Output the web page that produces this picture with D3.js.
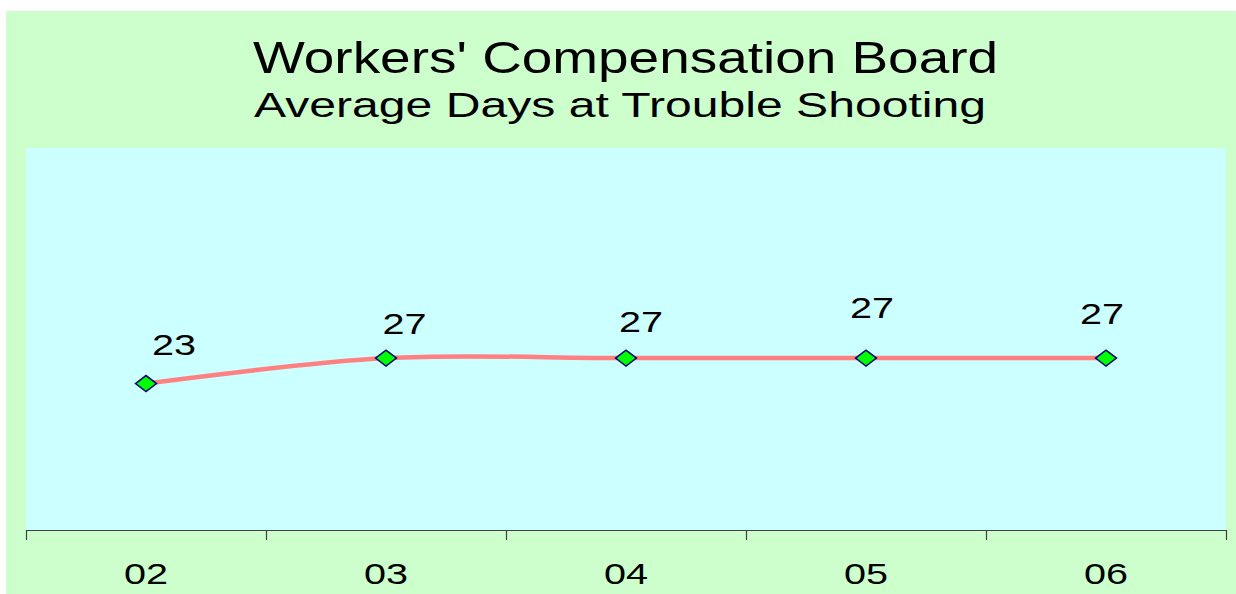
<!DOCTYPE html>
<html>
<head>
<meta charset="utf-8">
<script src="https://cdn.jsdelivr.net/npm/d3@7"></script>
<style>
  html, body { margin: 0; padding: 0; background: #ffffff; }
  svg { display: block; }
  text { font-family: "Liberation Sans", Arial, sans-serif; fill: #000; }
</style>
</head>
<body>
<svg id="chart" width="1236" height="594"></svg>
<script>
// ---- data ----
const categories = ["02", "03", "04", "05", "06"];
const avgDays = [23, 27, 27, 27, 27];
const titleText = "Workers' Compensation Board";
const subtitleText = "Average Days at Trouble Shooting";

// ---- layout constants ----
const W = 1236, H = 594;
const outer = { x: 6, y: 11 };
const plot = { left: 26, right: 1226, top: 148, bottom: 530 };
const yMax = 60;
// label nudges (dx, dy from point to baseline) as in reference
const labelNudge = [[28, -29], [18.5, -24], [15, -26], [6, -40], [-4, -34]];

const svg = d3.select("#chart");

// outer background
svg.append("rect").attr("x", outer.x).attr("y", outer.y)
  .attr("width", W - outer.x).attr("height", H - outer.y)
  .attr("fill", "#CCFFCC");

// plot area
svg.append("rect").attr("x", plot.left).attr("y", plot.top)
  .attr("width", plot.right - plot.left).attr("height", plot.bottom - plot.top)
  .attr("fill", "#CCFFFF");

// titles
svg.append("text").attr("x", 625.5).attr("y", 73)
  .attr("text-anchor", "middle").attr("font-size", 43.5)
  .attr("textLength", 745).attr("lengthAdjust", "spacingAndGlyphs")
  .text(titleText);
svg.append("text").attr("x", 620).attr("y", 117)
  .attr("text-anchor", "middle").attr("font-size", 34.5)
  .attr("textLength", 732).attr("lengthAdjust", "spacingAndGlyphs")
  .text(subtitleText);

// scales
const x = d3.scaleBand().domain(categories).range([plot.left, plot.right]).padding(0);
const xEdges = d3.scaleLinear().domain([0, categories.length]).range([plot.left, plot.right]);
const y = d3.scaleLinear().domain([0, yMax]).range([plot.bottom, plot.top]);

// x axis: tick marks at category boundaries
const edgeAxis = d3.axisBottom(xEdges)
  .tickValues(d3.range(0, categories.length + 1))
  .tickSize(10).tickSizeOuter(0).tickFormat("");
const gEdge = svg.append("g").attr("transform", `translate(0,${plot.bottom})`).call(edgeAxis);
gEdge.selectAll("path, line").attr("stroke", "#404040").attr("stroke-width", 1.2);

// category labels
const labelAxis = d3.axisBottom(x).tickSize(0).tickPadding(0);
const gLab = svg.append("g").attr("transform", `translate(0,${plot.bottom})`).call(labelAxis);
gLab.select(".domain").remove();
gLab.selectAll("text")
  .attr("y", 54).attr("dy", null)
  .attr("font-size", 30)
  .attr("font-family", "'Liberation Sans', Arial, sans-serif")
  .attr("fill", "#000")
  .attr("textLength", 44).attr("lengthAdjust", "spacingAndGlyphs");

// line
const pts = categories.map((c, i) => [x(c) + x.bandwidth() / 2, y(avgDays[i])]);
const line = d3.line().curve(d3.curveCardinal.tension(0));
svg.append("path").attr("d", line(pts))
  .attr("fill", "none").attr("stroke", "#FF8080").attr("stroke-width", 4.5);

// markers (diamonds)
svg.selectAll("path.marker").data(pts).enter().append("path")
  .attr("class", "marker")
  .attr("d", d => `M${d[0] - 10.5},${d[1]} L${d[0]},${d[1] - 8} L${d[0] + 10.5},${d[1]} L${d[0]},${d[1] + 8} Z`)
  .attr("fill", "#00FF00").attr("stroke", "#000080").attr("stroke-width", 1.5);

// data labels
svg.selectAll("text.dl").data(pts).enter().append("text")
  .attr("class", "dl")
  .attr("x", (d, i) => d[0] + labelNudge[i][0])
  .attr("y", (d, i) => d[1] + labelNudge[i][1])
  .attr("text-anchor", "middle").attr("font-size", 30)
  .attr("textLength", 44).attr("lengthAdjust", "spacingAndGlyphs")
  .text((d, i) => avgDays[i]);
</script>
</body>
</html>
